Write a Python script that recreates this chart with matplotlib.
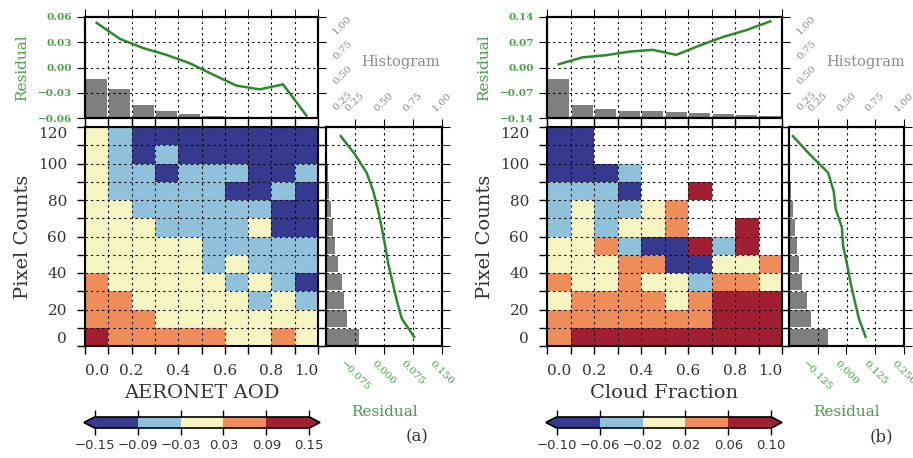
import numpy as np
import matplotlib
matplotlib.use('Agg')
import matplotlib.pyplot as plt
from matplotlib.colors import ListedColormap, BoundaryNorm

plt.rcParams['font.family'] = 'serif'
plt.rcParams['font.serif'] = ['DejaVu Serif']

# ---- data ----
x_edges = np.linspace(0, 1, 11)
y_edges = np.arange(0, 121, 10)
x_mid = (x_edges[:-1] + x_edges[1:]) / 2
y_mid = (y_edges[:-1] + y_edges[1:]) / 2

# mean residual per cell, rows from 0-10 pixels (bottom) up to 110-120 (top)
aod_grid = np.array([
    [0.12, 0.06, 0.06, 0.06, 0.06, 0.06, 0.00, 0.00, 0.06, 0.00],
    [0.06, 0.06, 0.06, 0.00, 0.00, 0.00, 0.00, 0.00, 0.00, 0.00],
    [0.06, 0.06, 0.00, 0.00, 0.00, 0.00, 0.00, -0.06, 0.00, -0.06],
    [0.06, 0.00, 0.00, 0.00, 0.00, 0.00, -0.06, 0.00, -0.06, -0.12],
    [0.00, 0.00, 0.00, 0.00, 0.00, -0.06, 0.00, -0.06, -0.06, -0.06],
    [0.00, 0.00, 0.00, 0.00, 0.00, -0.06, -0.06, -0.06, -0.06, -0.06],
    [0.00, 0.00, 0.00, -0.06, -0.06, -0.06, -0.06, 0.00, -0.12, -0.12],
    [0.00, 0.00, -0.06, -0.06, -0.06, -0.06, -0.06, -0.06, -0.12, -0.12],
    [0.00, -0.06, -0.06, -0.06, -0.06, -0.06, -0.12, -0.12, -0.06, -0.12],
    [0.00, -0.06, -0.06, -0.12, -0.06, -0.06, -0.06, -0.12, -0.12, -0.06],
    [0.00, -0.06, -0.12, -0.06, -0.12, -0.12, -0.12, -0.12, -0.12, -0.12],
    [0.00, -0.06, -0.12, -0.12, -0.12, -0.12, -0.12, -0.12, -0.12, -0.12],
])
aod_col_hist = [0.386, 0.287, 0.132, 0.073, 0.043, 0.023, 0.013, 0.010, 0.003, 0.001]
aod_col_resid = [0.053, 0.034, 0.023, 0.015, 0.005, -0.0085, -0.0215, -0.026, -0.020, -0.057]
aod_row_hist = [0.285, 0.179, 0.159, 0.135, 0.107, 0.081, 0.063, 0.043, 0.023, 0.014, 0.009, 0.006]
aod_row_resid = [0.078, 0.046, 0.033, 0.022, 0.011, 0.003, -0.006, -0.016, -0.028, -0.045, -0.075, -0.112]
aod_bounds = [-0.15, -0.09, -0.03, 0.03, 0.09, 0.15]

n = np.nan
cf_grid = np.array([
    [0.04, 0.08, 0.08, 0.08, 0.08, 0.08, 0.08, 0.08, 0.08, 0.08],
    [0.04, 0.04, 0.04, 0.04, 0.04, 0.04, 0.04, 0.08, 0.08, 0.08],
    [0.00, 0.04, 0.04, 0.04, 0.04, 0.00, 0.04, 0.08, 0.08, 0.08],
    [0.04, 0.00, 0.00, 0.04, 0.00, 0.00, -0.04, 0.04, 0.04, 0.00],
    [0.00, 0.00, 0.00, 0.04, 0.04, -0.08, -0.08, 0.00, 0.00, 0.04],
    [0.00, 0.00, 0.04, -0.04, -0.08, -0.08, 0.08, -0.04, 0.08, n],
    [-0.04, 0.00, -0.04, 0.00, 0.00, 0.04, n, n, 0.08, n],
    [-0.04, 0.00, -0.04, -0.04, 0.00, 0.04, n, n, n, n],
    [-0.04, -0.04, -0.04, -0.08, n, n, 0.08, n, n, n],
    [-0.08, -0.08, -0.08, -0.04, n, n, n, n, n, n],
    [-0.08, -0.08, n, n, n, n, n, n, n, n],
    [-0.08, -0.08, n, n, n, n, n, n, n, n],
])
cf_col_hist = [0.386, 0.132, 0.092, 0.073, 0.073, 0.059, 0.050, 0.040, 0.030, 0.020]
cf_col_resid = [0.009, 0.028, 0.034, 0.044, 0.049, 0.035, 0.061, 0.085, 0.104, 0.128]
cf_row_hist = [0.340, 0.194, 0.157, 0.113, 0.087, 0.070, 0.052, 0.035, 0.020, 0.012, 0.006, 0.003]
cf_row_resid = [0.083, 0.054, 0.035, 0.017, 0.002, -0.015, -0.020, -0.047, -0.056, -0.080, -0.160, -0.233]
cf_bounds = [-0.10, -0.06, -0.02, 0.02, 0.06, 0.10]

cb_colors = ['#353a8f', '#8fc1db', '#f6f5c1', '#ee8d59', '#a21e32']
green_line = '#2b8a2b'
green_text = '#45a045'
gray_txt = '#8c8c8c'
gray_bar = '#7f7f81'

W, H = 913, 458
fig = plt.figure(figsize=(W / 100, H / 100), dpi=100)


def px(l, t, r, b):
    return [l / W, 1 - b / H, (r - l) / W, (b - t) / H]


def fmt(v, d):
    return f'{v:.{d}f}'.replace('-', '\u2212')


grid_kw = dict(color='k', linestyle=(0, (2, 3)), linewidth=0.8)


def panel(hx, hr, rx, rr, grid, col_hist, col_res, row_hist, row_res,
          bounds, top_lim, right_lim, xlabel, tag, tag_x):
    cmap = ListedColormap(cb_colors)
    cmap.set_under(cb_colors[0])
    cmap.set_over(cb_colors[-1])
    norm = BoundaryNorm(bounds, cmap.N)

    # heatmap
    ax = fig.add_axes(px(hx, 127, hr, 346))
    mesh = ax.pcolormesh(x_edges, y_edges, np.ma.masked_invalid(grid), cmap=cmap, norm=norm)
    ax.set_xlim(0, 1)
    ax.set_ylim(0, 120)
    ax.set_xticks(np.arange(0, 1.01, 0.2))
    ax.set_xticklabels(['0.0', '0.2', '0.4', '0.6', '0.8', '1.0'])
    ax.set_xticks(x_edges, minor=True)
    ax.set_yticks(np.arange(0, 121, 20))
    ax.set_yticks(y_edges, minor=True)
    ax.tick_params(which='both', direction='out', length=6, width=1, top=True, right=True,
                   labelsize=11, pad=7, labelcolor='#333333')
    ax.grid(True, which='both', **grid_kw)
    ax.set_axisbelow(False)
    for s in ax.spines.values():
        s.set_linewidth(1.5)
    xl = ax.get_xticklabels()
    xl[0].set_ha('left')
    xl[-1].set_ha('right')
    yl = ax.get_yticklabels()
    yl[0].set_va('bottom')
    yl[-1].set_va('top')
    ax.set_xlabel(xlabel, fontsize=14, labelpad=4, color='#333333')
    ax.set_ylabel('Pixel Counts', fontsize=14, labelpad=4, color='#333333')

    # top: histogram + residual along x
    at = fig.add_axes(px(hx, 17, hr, 118), sharex=ax)
    at2 = at.twinx()
    at.yaxis.tick_right()
    at2.yaxis.tick_left()
    at2.yaxis.set_label_position('left')
    at.bar(x_mid, col_hist, width=0.09, color=gray_bar)
    at.set_ylim(0, 1)
    at.set_yticks([0.25, 0.5, 0.75, 1.0])
    at.set_yticklabels(['0.25', '0.50', '0.75', '1.00'], rotation=45, color=gray_txt, fontsize=7.5)
    at.tick_params(which='both', direction='out', length=6, top=True, bottom=True,
                   labelbottom=False)
    at.grid(True, which='both', **grid_kw)
    at2.plot(x_mid, col_res, color=green_line, lw=1.8)
    at2.set_ylim(-top_lim, top_lim)
    ticks = np.linspace(-top_lim, top_lim, 5)
    at2.set_yticks(ticks)
    at2.set_yticklabels([fmt(t, 2) for t in ticks], color=green_text, fontsize=7.5,
                        fontweight='bold')
    at2.tick_params(direction='out', length=6)
    at2.set_ylabel('Residual', color=green_text, fontsize=11, labelpad=6)
    for a in (at, at2):
        for s in a.spines.values():
            s.set_linewidth(1.5)
    at.text(1.187, 0.55, 'Histogram', transform=at.transAxes, ha='left', va='center',
            color=gray_txt, fontsize=10.5)

    # right: histogram + residual along y
    ar = fig.add_axes(px(rx, 127, rr, 346), sharey=ax)
    ar2 = ar.twiny()
    ar.xaxis.tick_top()
    ar2.xaxis.tick_bottom()
    ar2.xaxis.set_label_position('bottom')
    ar.barh(y_mid, row_hist, height=9, color=gray_bar)
    ar.set_xlim(0, 1)
    ar.set_xticks([0.25, 0.5, 0.75, 1.0])
    ar.set_xticklabels(['0.25', '0.50', '0.75', '1.00'], rotation=45, color=gray_txt, fontsize=7.5)
    ar.tick_params(which='both', direction='out', length=6, left=True, right=True,
                   labelleft=False)
    ar.grid(True, which='both', **grid_kw)
    ar2.plot(row_res, y_mid, color=green_line, lw=1.8)
    ar2.set_xlim(-right_lim, right_lim)
    rt = [-right_lim / 2, 0, right_lim / 2, right_lim]
    ar2.set_xticks(rt)
    ar2.set_xticklabels([fmt(t, 3) for t in rt], rotation=-45, color=green_text, fontsize=7.5)
    ar2.tick_params(direction='out', length=6)
    for a in (ar, ar2):
        for s in a.spines.values():
            s.set_linewidth(1.5)
    ar.text(0.5, -0.30, 'Residual', transform=ar.transAxes, ha='center', va='center',
            color=green_text, fontsize=11)

    # colorbar
    cax = fig.add_axes(px(hx - 1, 417, hx + 235, 428))
    cb = fig.colorbar(mesh, cax=cax, orientation='horizontal', extend='both', ticks=bounds)
    cb.ax.set_xticklabels([fmt(b, 2) for b in bounds], fontfamily='DejaVu Sans', fontsize=9.5,
                          color='#333333')
    cb.ax.tick_params(direction='out', top=True, bottom=True, length=5, width=1, pad=3)
    cb.outline.set_linewidth(1.2)

    fig.text(tag_x / W, 1 - 437 / H, tag, fontsize=12, ha='center', va='center', color='#333333')


panel(85, 318, 326, 442, aod_grid, aod_col_hist, aod_col_resid, aod_row_hist, aod_row_resid,
      aod_bounds, 0.06, 0.15, 'AERONET AOD', '(a)', 417)
panel(547, 782, 789, 904, cf_grid, cf_col_hist, cf_col_resid, cf_row_hist, cf_row_resid,
      cf_bounds, 0.14, 0.25, 'Cloud Fraction', '(b)', 881)

fig.savefig('out.png', dpi=100)
